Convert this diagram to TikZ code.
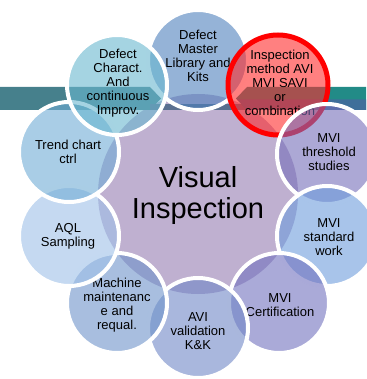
\documentclass[tikz,border=0pt]{standalone}
\usepackage{fontspec}
\setmainfont{Liberation Sans}
\definecolor{cC}{HTML}{BFB0D0}
\definecolor{cDM}{HTML}{4E80BC}
\definecolor{cR}{HTML}{FF2B2B}
\definecolor{cThr}{HTML}{756EB9}
\definecolor{cStd}{HTML}{6E9DDC}
\definecolor{cCert}{HTML}{7171BE}
\definecolor{cAVI}{HTML}{7087C6}
\definecolor{cMach}{HTML}{6E93CA}
\definecolor{cAQL}{HTML}{9EC0E8}
\definecolor{cTrend}{HTML}{70ACD5}
\definecolor{cDC}{HTML}{69B7CF}
\definecolor{bandL}{HTML}{46808C}
\definecolor{bandRT}{HTML}{228B87}
\definecolor{bandRB}{HTML}{3F6F9A}
\definecolor{bandM}{HTML}{5A6F90}
\begin{document}
\begin{tikzpicture}[x=1pt,y=-1pt,
  disc/.style={circle, minimum size=100pt, inner sep=0pt, fill opacity=0.6, draw=white, line width=4pt},
  lbl/.style={align=center, inner sep=0pt, font=\fontsize{13}{14}\selectfont, text=black},
  big/.style={align=center, inner sep=0pt, font=\fontsize{29}{31}\selectfont, text=black}]
\useasboundingbox (0,0) rectangle (366,379);
% centre disc
\node[circle, minimum size=200pt, inner sep=0pt, fill=cC] (c) at (198,194) {};
% banner
\fill[bandL] (0,87) -- (150,87) -- (161,98.5) -- (150,110) -- (0,110) -- cycle;
\fill[bandM] (150,104) rectangle (248,110);
\fill[bandRT] (247,87) -- (366,87) -- (366,110) -- (247,110) -- (236,98.5) -- cycle;
\fill[bandRB] (237,99.5) -- (366,99.5) -- (366,110) -- (247,110) -- cycle;
\node[big] (ct) at (198,195.5) {Visual\\Inspection};
% ring
\node[disc, fill=cDM] (dm) at (198,60) {};
\node[lbl] (dmt) at (198,56) {Defect\\Master\\Library and\\Kits};
\node[disc, fill=cR, draw=red, line width=5pt] (im) at (278,85) {};
\node[lbl] (imt) at (280,83) {Inspection\\method AVI\\MVI SAVI\\or\\combination};
\node[disc, fill=cThr] (thr) at (327,154) {};
\node[lbl] (thrt) at (329,152) {MVI\\threshold\\studies};
\node[disc, fill=cStd] (std) at (327,236) {};
\node[lbl] (stdt) at (329,237) {MVI\\standard\\work};
\node[disc, fill=cCert] (cert) at (279,303) {};
\node[lbl] (certt) at (280,305) {MVI\\Certification};
\node[disc, fill=cAVI] (avi) at (198,328) {};
\node[lbl] (avit) at (198,331) {AVI\\validation\\K\&K};
\node[disc, fill=cMach] (mach) at (117,303) {};
\node[lbl] (macht) at (117,305) {Machine\\maintenanc\\e and\\requal.};
\node[disc, fill=cAQL] (aql) at (69,236) {};
\node[lbl] (aqlt) at (68,236.5) {AQL\\Sampling};
\node[disc, fill=cTrend] (tr) at (69,152) {};
\node[lbl] (trt) at (68,151.5) {Trend chart\\ctrl};
\node[disc, fill=cDC] (dc) at (117,85) {};
\node[lbl] (dct) at (118,83) {Defect\\Charact.\\And\\continuous\\Improv.};
\end{tikzpicture}
\end{document}
